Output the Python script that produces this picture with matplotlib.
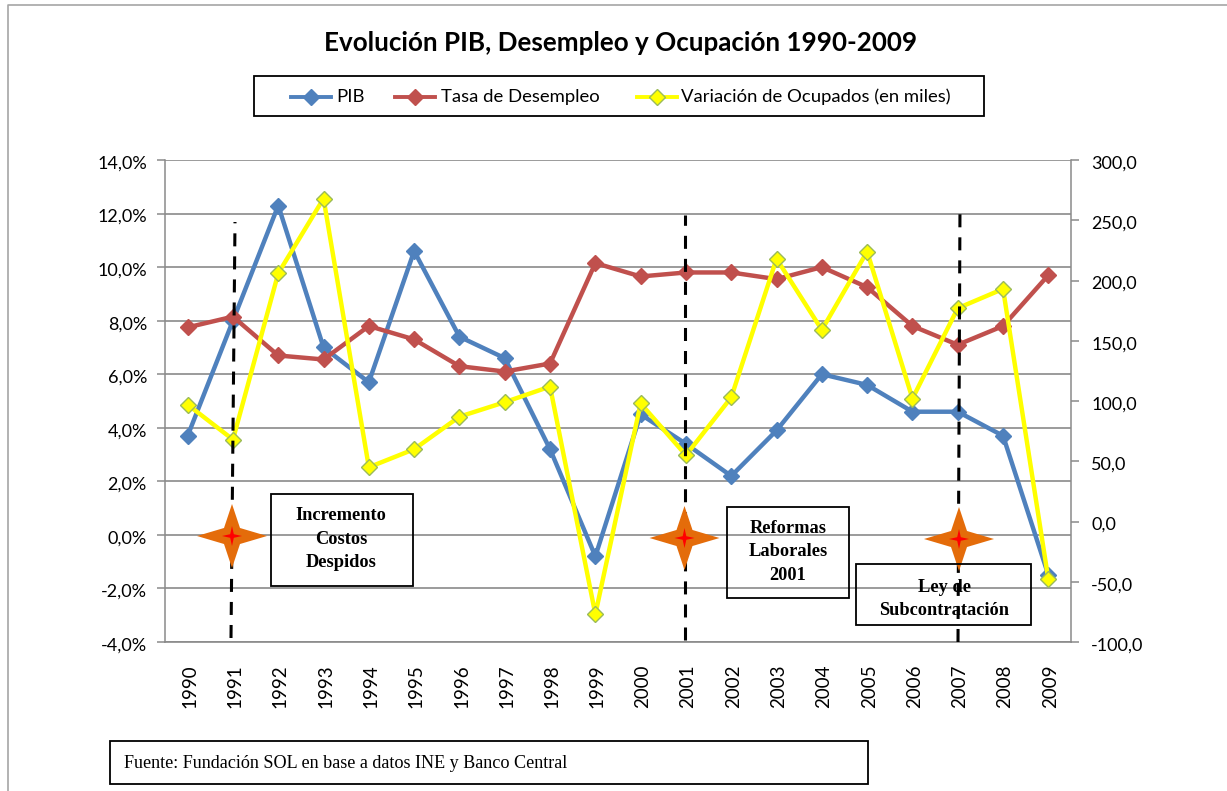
import matplotlib
matplotlib.use("Agg")
import matplotlib.pyplot as plt
from matplotlib.patches import Polygon, Rectangle
from matplotlib.lines import Line2D
from matplotlib.ticker import FuncFormatter, MultipleLocator
from matplotlib.transforms import ScaledTranslation

plt.rcParams['font.family'] = ['Lato', 'DejaVu Sans']

years = list(range(1990, 2010))
pib = [3.7, 8.0, 12.3, 7.0, 5.7, 10.6, 7.4, 6.6, 3.2, -0.8, 4.5, 3.4, 2.2, 3.9, 6.0, 5.6, 4.6, 4.6, 3.7, -1.5]
desempleo = [7.75, 8.15, 6.7, 6.55, 7.8, 7.3, 6.3, 6.1, 6.4, 10.15, 9.65, 9.8, 9.8, 9.55, 10.0, 9.25, 7.8, 7.1, 7.8, 9.7]
ocupados = [97, 68, 206, 268, 45, 60, 87, 99, 112, -77, 98, 55, 103, 218, 159, 224, 102, 177, 193, -48]
title = "Evolución PIB, Desempleo y Ocupación 1990-2009"
source = "Fuente: Fundación SOL en base a datos INE y Banco Central"

W, H = 1227, 791
L, R, T, B = 165, 1071, 160, 642
fig = plt.figure(figsize=(W/100, H/100), dpi=100, facecolor='white')
ax = fig.add_axes([L/W, 1-B/H, (R-L)/W, (B-T)/H])
ax2 = ax.twinx()
BLUE, RED, YEL = '#4F81BD', '#C0504D', '#FFFF00'
GRID = '#8A8A8A'

ax.set_xlim(1989.5, 2009.5)
ax.set_ylim(-4, 14)
ax2.set_ylim(-100, 300)
ax.yaxis.set_major_locator(MultipleLocator(2))
ax2.yaxis.set_major_locator(MultipleLocator(50))
ax.yaxis.set_major_formatter(FuncFormatter(lambda v, p: f"{v:.1f}%".replace('.', ',')))
ax2.yaxis.set_major_formatter(FuncFormatter(lambda v, p: f"{v:.1f}".replace('.', ',')))
ax.set_xticks(years)
ax.set_xticklabels([str(y) for y in years], rotation=90)
ax.grid(axis='y', color=GRID, lw=1.2, zorder=0)
ax.set_axisbelow(True)
for a in (ax, ax2):
    for s in a.spines.values():
        s.set_visible(False)
    a.tick_params(colors='black', labelsize=13, length=5.5, color=GRID, width=1.1)
for a, side in ((ax, 'left'), (ax2, 'right')):
    a.spines[side].set_visible(True)
    a.spines[side].set_color(GRID)
    a.spines[side].set_linewidth(1.1)
ax.spines['bottom'].set_visible(True)
ax.spines['bottom'].set_color(GRID)
ax.spines['bottom'].set_linewidth(1.2)
ax.tick_params(axis='x', length=0, pad=16, labelsize=13.5)
ax.tick_params(axis='y', pad=7.5)
ax2.tick_params(axis='y', pad=9)

# small pixel offsets of the tick labels
for lab in ax.get_xticklabels():
    lab.set_transform(lab.get_transform() + ScaledTranslation(2/100, 0, fig.dpi_scale_trans))
for a in (ax, ax2):
    for lab in a.get_yticklabels():
        lab.set_transform(lab.get_transform() + ScaledTranslation(0, -2/100, fig.dpi_scale_trans))

mk = dict(marker='D', markersize=8.5, lw=3.2)
l1, = ax.plot(years, pib, color=BLUE, mec=BLUE, mfc=BLUE, label='PIB', zorder=3, **mk)
l2, = ax.plot(years, desempleo, color=RED, mec=RED, mfc=RED, label='Tasa de Desempleo', zorder=3, **mk)
l3, = ax2.plot(years, ocupados, color=YEL, mec='#9BBB59', mfc=YEL, label='Variación de Ocupados (en miles)', zorder=4, **mk)

# overlay in pixel coordinates for annotations
ov = fig.add_axes([0, 0, 1, 1], facecolor='none')
ov.set_xlim(0, W); ov.set_ylim(H, 0); ov.axis('off')

# outer chart frame (open at the bottom and right)
ov.plot([8, 8, W], [H, 5, 5], color='#A6A6A6', lw=1.2)

ov.text(621, 43, title, ha='center', va='center', fontsize=18.7, fontweight='bold', color='black')

def box(x0, y0, x1, y1):
    ov.add_patch(Rectangle((x0, y0), x1-x0, y1-y0, fill=False, ec='black', lw=1.3, zorder=5))
box(254, 76, 984, 116)
box(271, 494, 413, 586)
box(727, 507, 849, 598)
box(856, 564, 1031, 625)
box(110, 741, 868, 784)

serif = dict(family='Liberation Serif', fontweight='bold', fontsize=13.2, ha='center', va='center', color='black', linespacing=1.5, zorder=6)
ov.text(341, 539, "Incremento\nCostos\nDespidos", **serif)
ov.text(788, 552, "Reformas\nLaborales\n2001", **serif)
ov.text(944, 599, "Ley de\nSubcontratación", **serif)
ov.text(124, 763, source, family='Liberation Serif', fontsize=13.1, va='center', ha='left', color='black')

# legend entries
def leg(x0, line, txt, tx):
    ov.add_line(Line2D([x0, x0+40], [97, 97], color=line.get_color(), lw=2.8, zorder=6))
    ov.add_line(Line2D([x0+20], [97], marker='D', ms=8.5, mec=line.get_markeredgecolor(), mfc=line.get_markerfacecolor(), zorder=7))
    ov.text(tx, 97, txt, fontsize=13.3, va='center', ha='left', color='black')
leg(291, l1, 'PIB', 336)
leg(395, l2, 'Tasa de Desempleo', 441)
leg(637, l3, 'Variación de Ocupados (en miles)', 681)

# event lines and stars: (x top, y top, x bottom, y bottom), star centre
event_lines = [(235, 222, 231, 638), (685, 215, 685, 640), (960, 205, 958, 642)]
star_centres = [(232, 536), (684.5, 538), (959, 539)]
for (xt, yt, xb, yb), (xc, yc) in zip(event_lines, star_centres):
    ov.add_line(Line2D([xb, xt], [yb, yt], color='black', lw=2.2, ls=(0, (4.26, 3.28)), dash_capstyle='butt', zorder=4))
    w, h, k = 35, 32, 8
    ov.add_patch(Polygon([(xc-w, yc), (xc-k, yc-k), (xc, yc-h), (xc+k, yc-k), (xc+w, yc), (xc+k, yc+k), (xc, yc+h), (xc-k, yc+k)], closed=True, fc='#E46C0A', ec='none', zorder=4.5))
    w, h, k = 10, 10, 1.8
    ov.add_patch(Polygon([(xc-w, yc), (xc-k, yc-k), (xc, yc-h), (xc+k, yc-k), (xc+w, yc), (xc+k, yc+k), (xc, yc+h), (xc-k, yc+k)], closed=True, fc='#FF0000', ec='none', zorder=4.6))

fig.savefig('out.png', dpi=100, facecolor='white')
